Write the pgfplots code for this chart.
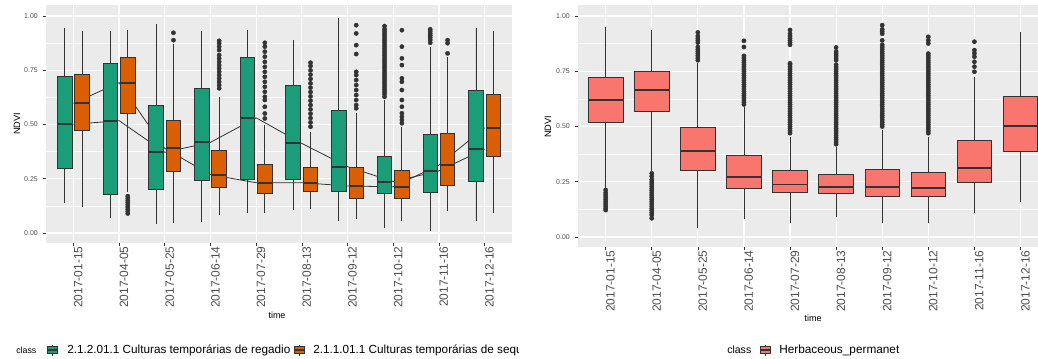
\documentclass[border=0pt]{standalone}
\usepackage{pgfplots}
\pgfplotsset{compat=1.18}
\usepgfplotslibrary{statistics}
\usepackage{fontspec}
\setmainfont{Liberation Sans}
\definecolor{bggray}{HTML}{EBEBEB}
\definecolor{dk}{HTML}{333333}
\definecolor{tk}{HTML}{4D4D4D}
\definecolor{cg}{HTML}{1B9E77}
\definecolor{co}{HTML}{D95F02}
\definecolor{cr}{HTML}{F8766D}
\pgfplotsset{
  ggbase/.style={
    scale only axis,
    axis background/.style={fill=bggray},
    axis line style={draw=none},
    xmin=0.4, xmax=10.6,
    xtick={1,2,3,4,5,6,7,8,9,10},
    xticklabels={2017-01-15,2017-04-05,2017-05-25,2017-06-14,2017-07-29,2017-08-13,2017-09-12,2017-10-12,2017-11-16,2017-12-16},
    ytick={0,0.25,0.5,0.75,1},
    yticklabels={0.00,0.25,0.50,0.75,1.00},
    minor ytick={0.125,0.375,0.625,0.875},
    grid=both,
    major grid style={white, line width=0.9pt},
    minor grid style={white, line width=0.45pt},
    tick align=outside,
    tick pos=left,
    major tick length=2.2pt,
    minor tick length=0pt,
    major tick style={dk, line width=0.5pt},
    minor tick style={draw=none},
    xticklabel style={rotate=90, anchor=north east, inner sep=0.8pt, xshift=0.6pt, yshift=0.5pt, text=tk, font=\fontsize{9}{10}\selectfont},
    yticklabel style={text=tk, inner sep=1pt, xshift=-2.8pt, font=\fontsize{5.2}{6}\selectfont},
    boxplot/draw direction=y,
    boxplot/whisker extend=0,
    boxplot/every median/.style={line width=1.4pt},
  },
  bx/.style={draw=dk, line width=0.6pt, mark=*, mark size=1.6pt, mark options={draw=dk, fill=dk, line width=0.3pt}},
}
\newcommand\lkey[3]{%
  \draw[dk, line width=0.5pt] (#1,#2-5.5) -- (#1,#2+5.5);
  \draw[dk, fill=#3, line width=0.5pt] (#1-5,#2-3.5) rectangle (#1+5,#2+3.5);
  \draw[dk, line width=1pt] (#1-5,#2) -- (#1+5,#2);
}
\begin{document}
\begin{tikzpicture}
\useasboundingbox (0,0) rectangle (778.5pt,-268.5pt);
% ---------------- left panel
\begin{axis}[ggbase, at={(34.5pt,-3.75pt)}, anchor=north west,
  width=349.5pt, height=178.5pt, ymin=-0.046, ymax=1.051]
\addplot[dk, line width=0.6pt] coordinates {(1,0.501) (2,0.518) (3,0.372) (4,0.418) (5,0.531) (6,0.413) (7,0.306) (8,0.237) (9,0.286) (10,0.387)};
\addplot[dk, line width=0.6pt] coordinates {(1,0.598) (2,0.693) (3,0.390) (4,0.269) (5,0.232) (6,0.232) (7,0.217) (8,0.213) (9,0.313) (10,0.485)};
% green
\addplot[bx, fill=cg, boxplot prepared={draw position=0.81, box extend=0.32, lower whisker=0.137, lower quartile=0.298, median=0.501, upper quartile=0.720, upper whisker=0.946}] coordinates {};
\addplot[bx, fill=cg, boxplot prepared={draw position=1.81, box extend=0.32, lower whisker=0.068, lower quartile=0.178, median=0.518, upper quartile=0.782, upper whisker=0.931}] coordinates {};
\addplot[bx, fill=cg, boxplot prepared={draw position=2.81, box extend=0.32, lower whisker=0.041, lower quartile=0.201, median=0.372, upper quartile=0.590, upper whisker=0.963}] coordinates {};
\addplot[bx, fill=cg, boxplot prepared={draw position=3.81, box extend=0.32, lower whisker=0.052, lower quartile=0.241, median=0.418, upper quartile=0.665, upper whisker=0.932}] coordinates {};
\addplot[bx, fill=cg, boxplot prepared={draw position=4.81, box extend=0.32, lower whisker=0.091, lower quartile=0.247, median=0.531, upper quartile=0.808, upper whisker=0.935}] coordinates {};
\addplot[bx, fill=cg, boxplot prepared={draw position=5.81, box extend=0.32, lower whisker=0.106, lower quartile=0.247, median=0.413, upper quartile=0.682, upper whisker=0.889}] coordinates {};
\addplot[bx, fill=cg, boxplot prepared={draw position=6.81, box extend=0.32, lower whisker=0.057, lower quartile=0.190, median=0.306, upper quartile=0.564, upper whisker=0.990}] coordinates {};
\addplot[bx, fill=cg, boxplot prepared={draw position=7.81, box extend=0.32, lower whisker=0.022, lower quartile=0.183, median=0.237, upper quartile=0.352, upper whisker=0.613}] coordinates {(0,0.628) (0,0.64) (0,0.65) (0,0.66) (0,0.67) (0,0.68) (0,0.69) (0,0.70) (0,0.71) (0,0.72) (0,0.73) (0,0.74) (0,0.75) (0,0.76) (0,0.77) (0,0.78) (0,0.79) (0,0.80) (0,0.81) (0,0.82) (0,0.83) (0,0.84) (0,0.85) (0,0.86) (0,0.87) (0,0.88) (0,0.89) (0,0.90) (0,0.91) (0,0.92) (0,0.93) (0,0.94) (0,0.954)};
\addplot[bx, fill=cg, boxplot prepared={draw position=8.81, box extend=0.32, lower whisker=0.011, lower quartile=0.186, median=0.286, upper quartile=0.455, upper whisker=0.859}] coordinates {(0,0.877) (0,0.89) (0,0.90) (0,0.91) (0,0.92) (0,0.93) (0,0.939)};
\addplot[bx, fill=cg, boxplot prepared={draw position=9.81, box extend=0.32, lower whisker=0.057, lower quartile=0.237, median=0.387, upper quartile=0.656, upper whisker=0.943}] coordinates {};
% orange
\addplot[bx, fill=co, boxplot prepared={draw position=1.19, box extend=0.32, lower whisker=0.118, lower quartile=0.475, median=0.598, upper quartile=0.733, upper whisker=0.931}] coordinates {};
\addplot[bx, fill=co, boxplot prepared={draw position=2.19, box extend=0.32, lower whisker=0.190, lower quartile=0.552, median=0.693, upper quartile=0.810, upper whisker=0.935}] coordinates {(0,0.17) (0,0.16) (0,0.15) (0,0.14) (0,0.13) (0,0.12) (0,0.11) (0,0.10) (0,0.09)};
\addplot[bx, fill=co, boxplot prepared={draw position=3.19, box extend=0.32, lower whisker=0.048, lower quartile=0.283, median=0.390, upper quartile=0.521, upper whisker=0.871}] coordinates {(0,0.889) (0,0.923)};
\addplot[bx, fill=co, boxplot prepared={draw position=4.19, box extend=0.32, lower whisker=0.083, lower quartile=0.209, median=0.269, upper quartile=0.379, upper whisker=0.628}] coordinates {(0,0.667) (0,0.682) (0,0.697) (0,0.713) (0,0.728) (0,0.743) (0,0.759) (0,0.774) (0,0.789) (0,0.805) (0,0.820) (0,0.843) (0,0.859) (0,0.874) (0,0.886)};
\addplot[bx, fill=co, boxplot prepared={draw position=5.19, box extend=0.32, lower whisker=0.091, lower quartile=0.183, median=0.232, upper quartile=0.318, upper whisker=0.500}] coordinates {(0,0.528) (0,0.551) (0,0.582) (0,0.613) (0,0.628) (0,0.651) (0,0.674) (0,0.697) (0,0.720) (0,0.743) (0,0.766) (0,0.789) (0,0.813) (0,0.836) (0,0.859) (0,0.877)};
\addplot[bx, fill=co, boxplot prepared={draw position=6.19, box extend=0.32, lower whisker=0.109, lower quartile=0.190, median=0.232, upper quartile=0.301, upper whisker=0.467}] coordinates {(0,0.49) (0,0.51) (0,0.53) (0,0.55) (0,0.57) (0,0.59) (0,0.61) (0,0.63) (0,0.65) (0,0.67) (0,0.69) (0,0.71) (0,0.73) (0,0.75) (0,0.77) (0,0.785)};
\addplot[bx, fill=co, boxplot prepared={draw position=7.19, box extend=0.32, lower whisker=0.065, lower quartile=0.160, median=0.217, upper quartile=0.301, upper whisker=0.552}] coordinates {(0,0.575) (0,0.59) (0,0.613) (0,0.636) (0,0.659) (0,0.682) (0,0.705) (0,0.728) (0,0.743) (0,0.825) (0,0.866) (0,0.920) (0,0.958)};
\addplot[bx, fill=co, boxplot prepared={draw position=8.19, box extend=0.32, lower whisker=0.057, lower quartile=0.160, median=0.213, upper quartile=0.290, upper whisker=0.490}] coordinates {(0,0.506) (0,0.521) (0,0.536) (0,0.552) (0,0.582) (0,0.613) (0,0.659) (0,0.697) (0,0.713) (0,0.774) (0,0.805) (0,0.859) (0,0.935)};
\addplot[bx, fill=co, boxplot prepared={draw position=9.19, box extend=0.32, lower whisker=0.101, lower quartile=0.218, median=0.313, upper quartile=0.459, upper whisker=0.812}] coordinates {(0,0.828) (0,0.875) (0,0.889)};
\addplot[bx, fill=co, boxplot prepared={draw position=10.19, box extend=0.32, lower whisker=0.091, lower quartile=0.352, median=0.485, upper quartile=0.641, upper whisker=0.932}] coordinates {};
\end{axis}
% ---------------- right panel
\begin{axis}[ggbase, at={(433.5pt,-3.75pt)}, anchor=north west,
  width=345pt, height=181.5pt, xmax=10.38, ymin=-0.045, ymax=1.050]
\addplot[bx, fill=cr, boxplot prepared={draw position=1, box extend=0.75, lower whisker=0.221, lower quartile=0.519, median=0.620, upper quartile=0.723, upper whisker=0.952}] coordinates {(0,0.213) (0,0.20) (0,0.19) (0,0.18) (0,0.17) (0,0.16) (0,0.15) (0,0.14) (0,0.13) (0,0.122)};
\addplot[bx, fill=cr, boxplot prepared={draw position=2, box extend=0.75, lower whisker=0.300, lower quartile=0.567, median=0.665, upper quartile=0.751, upper whisker=0.937}] coordinates {(0,0.288) (0,0.275) (0,0.26) (0,0.25) (0,0.24) (0,0.23) (0,0.22) (0,0.21) (0,0.20) (0,0.19) (0,0.18) (0,0.17) (0,0.16) (0,0.15) (0,0.14) (0,0.13) (0,0.12) (0,0.11) (0,0.10) (0,0.085)};
\addplot[bx, fill=cr, boxplot prepared={draw position=3, box extend=0.75, lower whisker=0.039, lower quartile=0.303, median=0.391, upper quartile=0.495, upper whisker=0.786}] coordinates {(0,0.80) (0,0.81) (0,0.82) (0,0.83) (0,0.84) (0,0.85) (0,0.86) (0,0.88) (0,0.89) (0,0.90) (0,0.91) (0,0.926)};
\addplot[bx, fill=cr, boxplot prepared={draw position=4, box extend=0.75, lower whisker=0.080, lower quartile=0.220, median=0.273, upper quartile=0.368, upper whisker=0.590}] coordinates {(0,0.60) (0,0.61) (0,0.62) (0,0.63) (0,0.64) (0,0.65) (0,0.66) (0,0.67) (0,0.68) (0,0.69) (0,0.70) (0,0.71) (0,0.72) (0,0.73) (0,0.74) (0,0.75) (0,0.76) (0,0.77) (0,0.78) (0,0.79) (0,0.80) (0,0.81) (0,0.82) (0,0.86) (0,0.888)};
\addplot[bx, fill=cr, boxplot prepared={draw position=5, box extend=0.75, lower whisker=0.062, lower quartile=0.200, median=0.238, upper quartile=0.303, upper whisker=0.454}] coordinates {(0,0.47) (0,0.48) (0,0.49) (0,0.50) (0,0.51) (0,0.52) (0,0.53) (0,0.54) (0,0.55) (0,0.56) (0,0.57) (0,0.58) (0,0.59) (0,0.60) (0,0.61) (0,0.62) (0,0.63) (0,0.64) (0,0.65) (0,0.66) (0,0.67) (0,0.68) (0,0.69) (0,0.70) (0,0.71) (0,0.72) (0,0.73) (0,0.74) (0,0.75) (0,0.76) (0,0.77) (0,0.78) (0,0.786) (0,0.87) (0,0.88) (0,0.89) (0,0.90) (0,0.91) (0,0.92) (0,0.937)};
\addplot[bx, fill=cr, boxplot prepared={draw position=6, box extend=0.75, lower whisker=0.089, lower quartile=0.198, median=0.225, upper quartile=0.284, upper whisker=0.409}] coordinates {(0,0.42) (0,0.43) (0,0.44) (0,0.45) (0,0.46) (0,0.47) (0,0.48) (0,0.49) (0,0.50) (0,0.51) (0,0.52) (0,0.53) (0,0.54) (0,0.55) (0,0.56) (0,0.57) (0,0.58) (0,0.59) (0,0.60) (0,0.61) (0,0.62) (0,0.63) (0,0.64) (0,0.65) (0,0.66) (0,0.67) (0,0.68) (0,0.69) (0,0.70) (0,0.71) (0,0.72) (0,0.73) (0,0.74) (0,0.75) (0,0.76) (0,0.77) (0,0.78) (0,0.80) (0,0.81) (0,0.82) (0,0.83) (0,0.84) (0,0.858)};
\addplot[bx, fill=cr, boxplot prepared={draw position=7, box extend=0.75, lower whisker=0.062, lower quartile=0.186, median=0.225, upper quartile=0.306, upper whisker=0.484}] coordinates {(0,0.50) (0,0.51) (0,0.52) (0,0.53) (0,0.54) (0,0.55) (0,0.56) (0,0.57) (0,0.58) (0,0.59) (0,0.60) (0,0.61) (0,0.62) (0,0.63) (0,0.64) (0,0.65) (0,0.66) (0,0.67) (0,0.68) (0,0.69) (0,0.70) (0,0.71) (0,0.72) (0,0.73) (0,0.74) (0,0.75) (0,0.76) (0,0.77) (0,0.78) (0,0.79) (0,0.80) (0,0.81) (0,0.82) (0,0.83) (0,0.84) (0,0.85) (0,0.86) (0,0.87) (0,0.89) (0,0.92) (0,0.93) (0,0.94) (0,0.959)};
\addplot[bx, fill=cr, boxplot prepared={draw position=8, box extend=0.75, lower whisker=0.065, lower quartile=0.182, median=0.223, upper quartile=0.291, upper whisker=0.454}] coordinates {(0,0.47) (0,0.48) (0,0.49) (0,0.50) (0,0.51) (0,0.52) (0,0.53) (0,0.54) (0,0.55) (0,0.56) (0,0.57) (0,0.58) (0,0.59) (0,0.60) (0,0.61) (0,0.62) (0,0.63) (0,0.64) (0,0.65) (0,0.66) (0,0.67) (0,0.68) (0,0.69) (0,0.70) (0,0.71) (0,0.72) (0,0.73) (0,0.74) (0,0.75) (0,0.76) (0,0.77) (0,0.78) (0,0.79) (0,0.80) (0,0.81) (0,0.82) (0,0.83) (0,0.876) (0,0.89) (0,0.906)};
\addplot[bx, fill=cr, boxplot prepared={draw position=9, box extend=0.75, lower whisker=0.110, lower quartile=0.246, median=0.311, upper quartile=0.436, upper whisker=0.725}] coordinates {(0,0.748) (0,0.771) (0,0.793) (0,0.816) (0,0.831) (0,0.846) (0,0.884)};
\addplot[bx, fill=cr, boxplot prepared={draw position=10, box extend=0.75, lower whisker=0.160, lower quartile=0.389, median=0.502, upper quartile=0.638, upper whisker=0.929}] coordinates {};
\end{axis}
% ---------------- labels and legends
\begin{scope}[x=0.75pt, y=-0.75pt]
\node[font=\fontsize{6.9}{8}\selectfont, rotate=90] at (17,124) {NDVI};
\node[font=\fontsize{6.9}{8}\selectfont, rotate=90] at (548,127) {NDVI};
\node[font=\fontsize{6.75}{8}\selectfont] at (277,315) {time};
\node[font=\fontsize{6.75}{8}\selectfont] at (813,318) {time};
\begin{scope}
\clip (0,0) rectangle (518,358);
\node[font=\fontsize{6.6}{8}\selectfont, anchor=west, inner sep=0pt] at (16,350) {class};
\lkey{52}{350}{cg}
\node[font=\fontsize{8.8}{10}\selectfont, anchor=west, inner sep=0pt] at (67,350) {2.1.2.01.1 Culturas temporárias de regadio};
\lkey{299}{350}{co}
\node[font=\fontsize{8.8}{10}\selectfont, anchor=west, inner sep=0pt] at (313,350) {2.1.1.01.1 Culturas temporárias de sequeiro};
\end{scope}
\node[font=\fontsize{7.9}{9}\selectfont, anchor=west, inner sep=0pt] at (727,350) {class};
\lkey{765}{350}{cr}
\node[font=\fontsize{8.85}{10}\selectfont, anchor=west, inner sep=0pt] at (779,350) {Herbaceous\_permanet};
\end{scope}
\end{tikzpicture}
\end{document}
